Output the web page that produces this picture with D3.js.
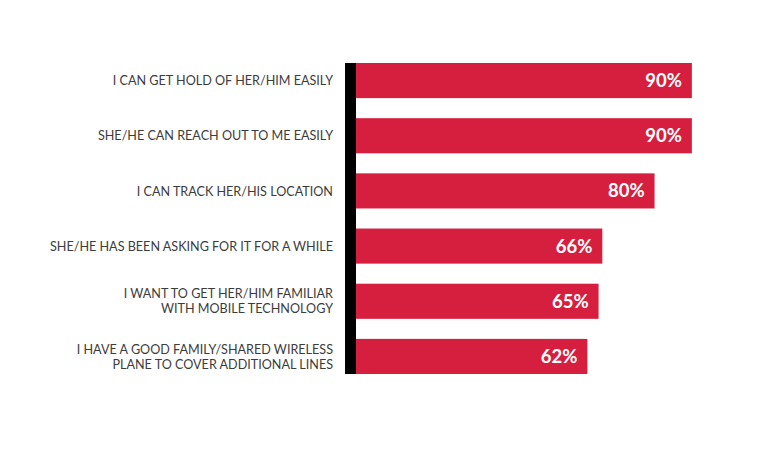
<!DOCTYPE html>
<html><head><meta charset="utf-8">
<script src="https://cdn.jsdelivr.net/npm/d3@7"></script>
<style>html,body{margin:0;padding:0;background:#fff;}</style>
</head><body>
<svg id="c" width="780" height="470"></svg>
<script>
const categories = [
  ["I CAN GET HOLD OF HER/HIM EASILY"],
  ["SHE/HE CAN REACH OUT TO ME EASILY"],
  ["I CAN TRACK HER/HIS LOCATION"],
  ["SHE/HE HAS BEEN ASKING FOR IT FOR A WHILE"],
  ["I WANT TO GET HER/HIM FAMILIAR", "WITH MOBILE TECHNOLOGY"],
  ["I HAVE A GOOD FAMILY/SHARED WIRELESS", "PLANE TO COVER ADDITIONAL LINES"]
];
const values = [90, 90, 80, 66, 65, 62];
const valueLabels = ["90%", "90%", "80%", "66%", "65%", "62%"];

const svg = d3.select("#c");
const x0 = 356;
const x = d3.scaleLinear().domain([0, 100]).range([x0, x0 + 373.2]);
const y = d3.scaleBand().domain(d3.range(values.length)).range([63, 374]).paddingInner(20/55).paddingOuter(0);

const red = "#d61f3f";
svg.selectAll("rect.bar").data(values).enter().append("rect")
  .attr("class", "bar")
  .attr("x", x(0))
  .attr("y", (d, i) => y(i))
  .attr("width", d => x(d) - x(0))
  .attr("height", y.bandwidth())
  .attr("fill", red);

svg.selectAll("text.val").data(values).enter().append("text")
  .attr("class", "val")
  .attr("x", d => x(d) - 10)
  .attr("y", (d, i) => y(i) + y.bandwidth() / 2 + 6.5)
  .attr("text-anchor", "end")
  .attr("fill", "#fff")
  .attr("font-family", "Lato, 'Open Sans', sans-serif")
  .attr("font-weight", 700)
  .attr("font-size", 18.5)
  .text((d, i) => valueLabels[i]);

svg.append("rect")
  .attr("x", 345).attr("y", y(0))
  .attr("width", 11).attr("height", y(values.length - 1) + y.bandwidth() - y(0))
  .attr("fill", "#000");

const lab = svg.selectAll("text.cat").data(categories).enter().append("text")
  .attr("class", "cat")
  .attr("text-anchor", "end")
  .attr("fill", "#3c3c3c")
  .attr("font-family", "Lato, 'Open Sans', sans-serif")
  .attr("font-size", 12.6)
  .attr("y", (d, i) => y(i) + y.bandwidth() / 2);
lab.each(function(d) {
  const t = d3.select(this);
  const n = d.length;
  d.forEach((line, k) => {
    t.append("tspan").attr("x", 333)
      .attr("dy", k === 0 ? (4.6 - (n - 1) * 7.5) : 15)
      .text(line);
  });
});
</script>
</body></html>
